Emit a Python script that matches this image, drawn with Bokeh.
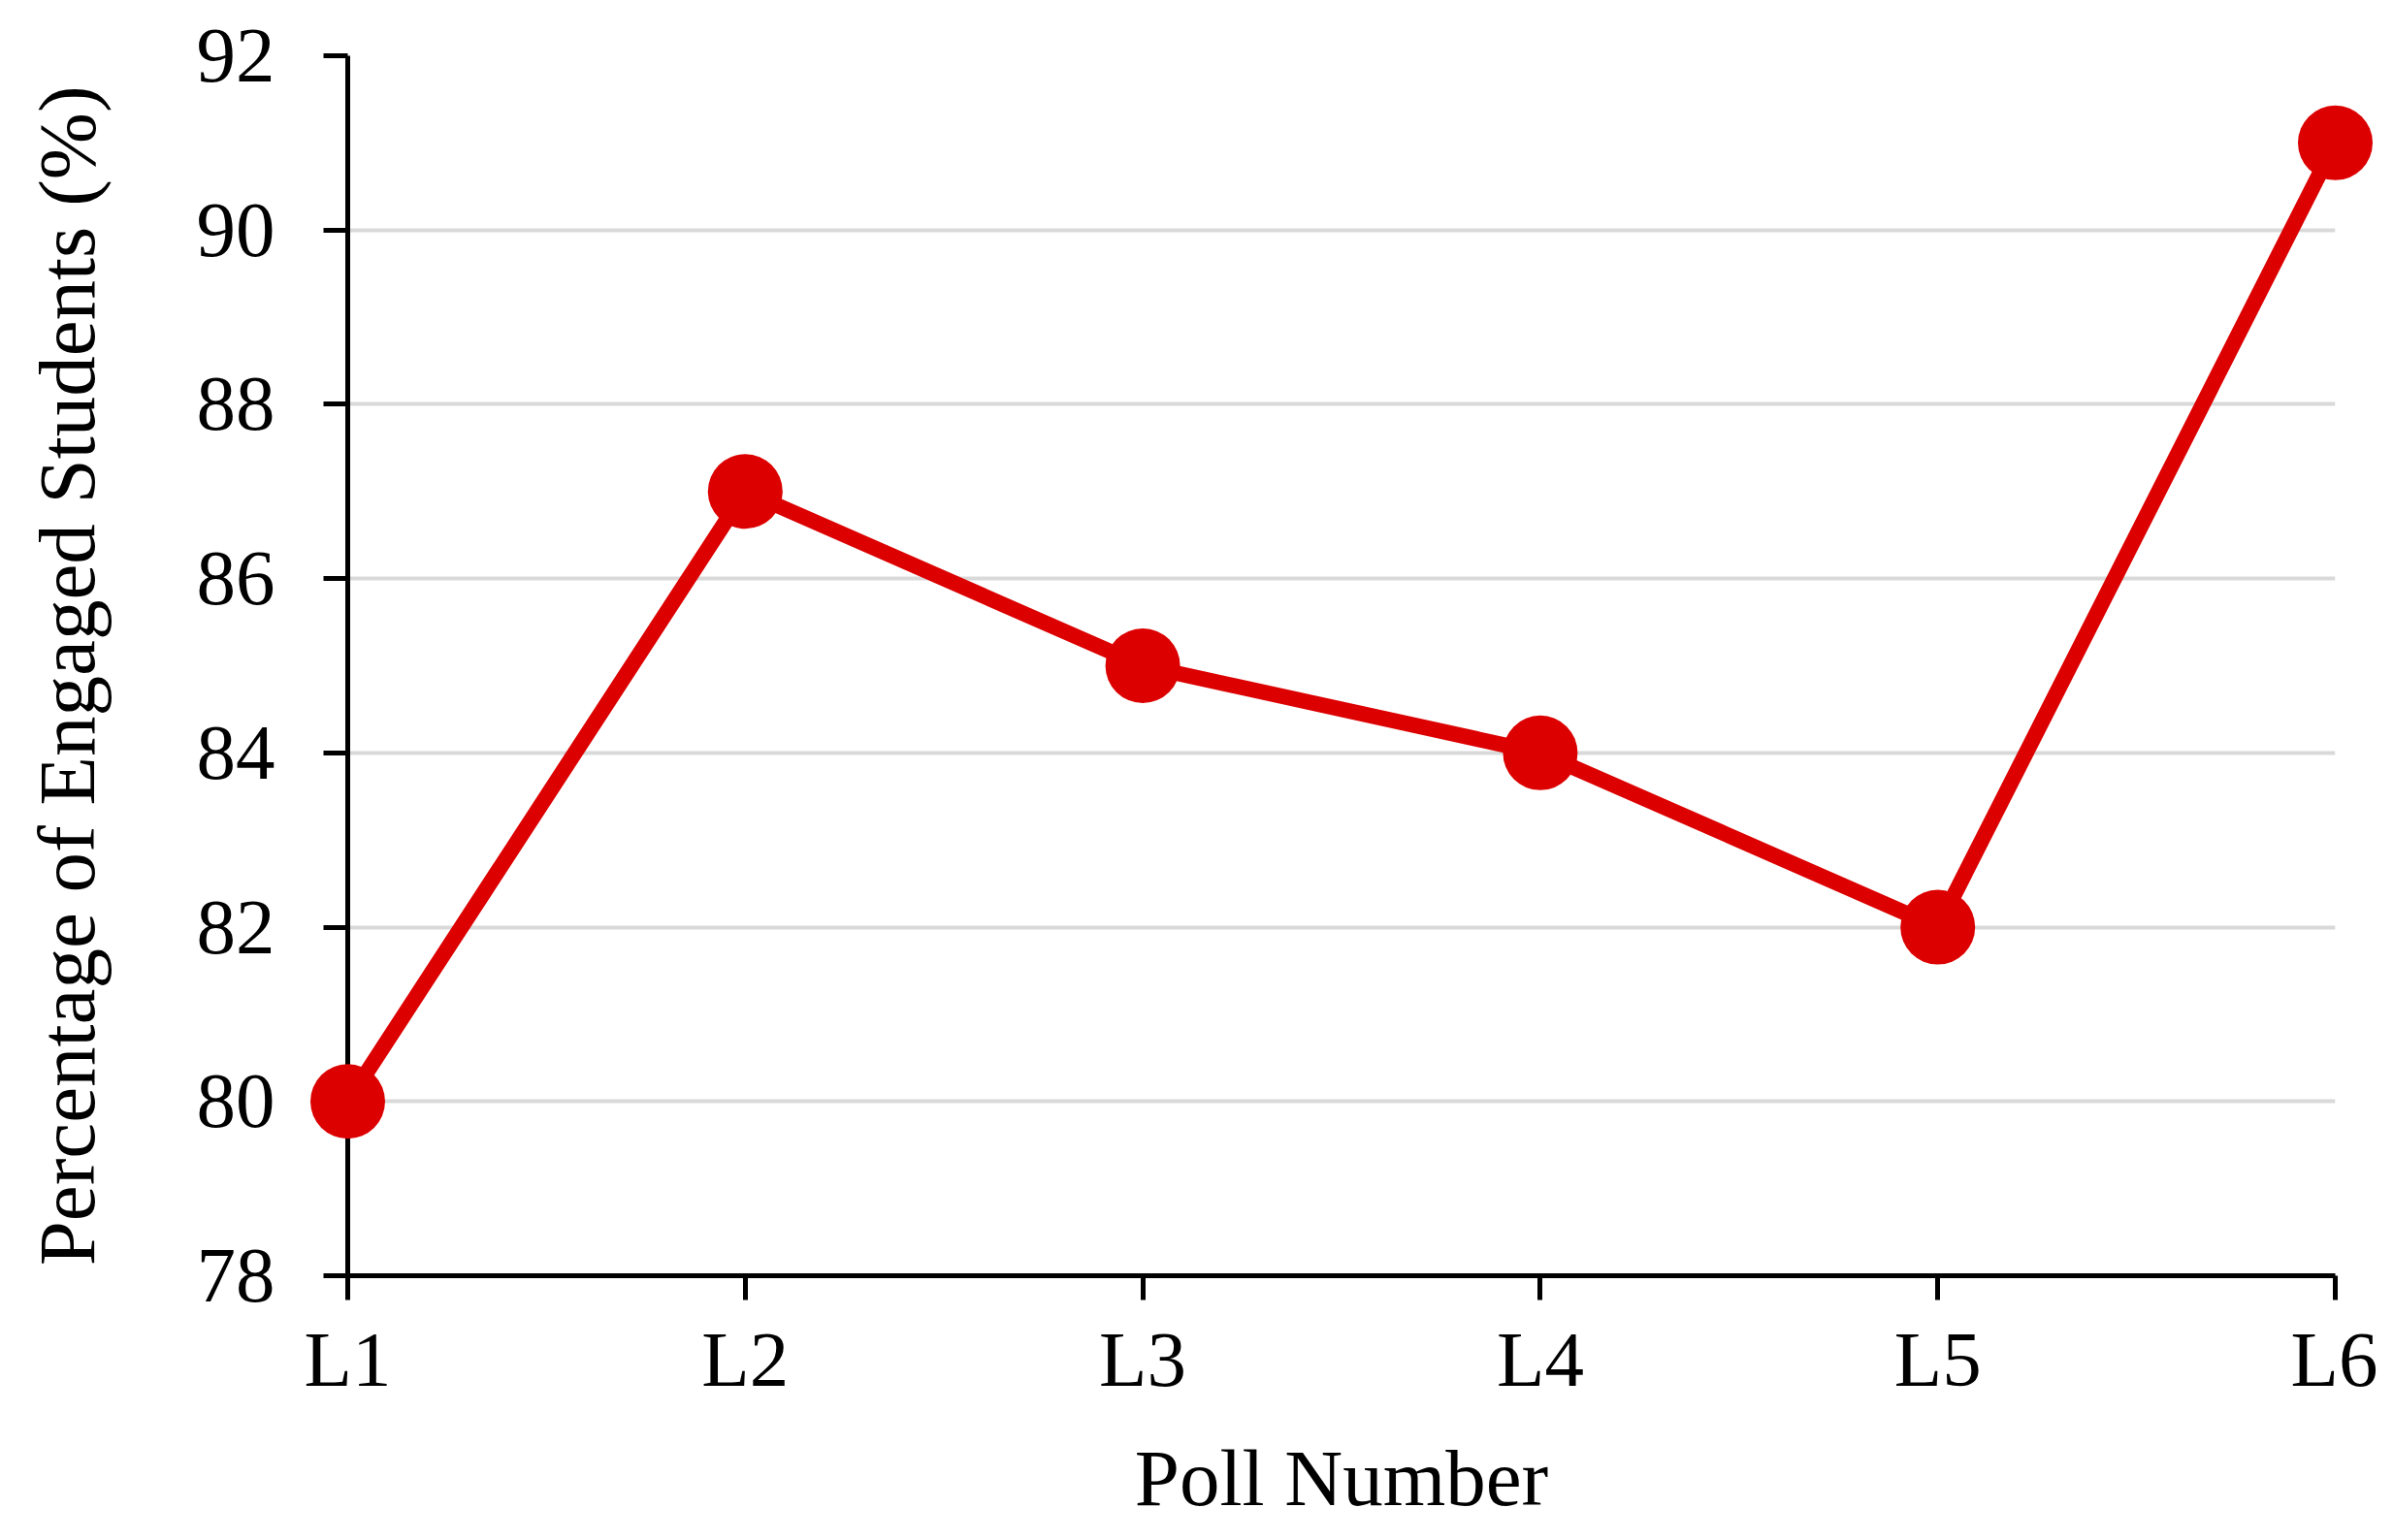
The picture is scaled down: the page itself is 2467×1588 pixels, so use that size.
from bokeh.plotting import figure
from bokeh.models import FixedTicker, Range1d
from bokeh.embed import file_html
from bokeh.resources import INLINE

polls = ["L1", "L2", "L3", "L4", "L5", "L6"]
engaged = [80, 87, 85, 84, 82, 91]
y_ticks = [78, 80, 82, 84, 86, 88, 90, 92]

xs = list(range(len(polls)))

p = figure(width=2451, height=1572, output_backend="svg", toolbar_location=None,
           x_range=Range1d(0, len(polls) - 1), y_range=Range1d(78, 92),
           min_border_left=358, min_border_right=44, min_border_top=57, min_border_bottom=246)
p.outline_line_color = None
p.background_fill_color = "white"

RED = "#dc0000"
p.line(xs, engaged, line_color=RED, line_width=16, level="overlay")
p.scatter(xs, engaged, size=77, fill_color=RED, line_color=None, level="overlay")

FONT = "Liberation Serif"
# x axis
p.xaxis.ticker = FixedTicker(ticks=xs)
p.xaxis.major_label_overrides = {i: s for i, s in zip(xs, polls)}
p.xaxis.axis_label = "Poll Number"
# y axis
p.yaxis.ticker = FixedTicker(ticks=y_ticks)
p.yaxis.axis_label = "Percentage of Engaged  Students (%)"

for ax in (p.xaxis[0], p.yaxis[0]):
    ax.axis_line_color = "black"
    ax.axis_line_width = 5
    ax.major_tick_line_color = "black"
    ax.major_tick_line_width = 5
    ax.major_tick_out = 25
    ax.major_tick_in = 0
    ax.minor_tick_line_color = None
    ax.major_label_text_font = FONT
    ax.major_label_text_font_size = "81px"
    ax.major_label_text_color = "black"
    ax.axis_label_text_font = FONT
    ax.axis_label_text_font_size = "83px"
    ax.axis_label_text_font_style = "normal"
    ax.axis_label_text_color = "black"

p.yaxis.major_label_standoff = 50
p.xaxis.major_label_standoff = 16
p.yaxis.axis_label_standoff = 85
p.xaxis.axis_label_standoff = 28

p.xgrid.grid_line_color = None
p.ygrid.ticker = FixedTicker(ticks=y_ticks)
p.ygrid.grid_line_color = "#d9d9d9"
p.ygrid.grid_line_width = 4

open("out.html", "w").write(file_html(p, INLINE))
